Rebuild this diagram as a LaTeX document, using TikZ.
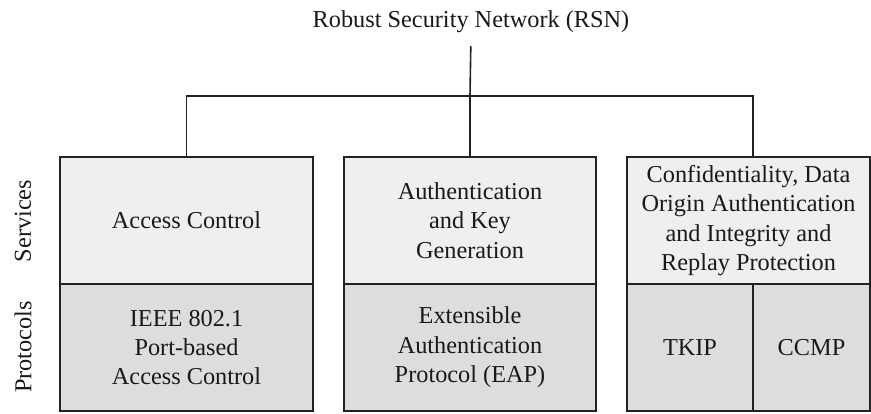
\documentclass[tikz,border=0pt]{standalone}
\usepackage{fontspec}
\setmainfont{Liberation Serif}
\usetikzlibrary{calc}
\definecolor{svcfill}{HTML}{EFEFEF}
\definecolor{protfill}{HTML}{DCDDDF}
\definecolor{linecol}{HTML}{222222}
\tikzset{
  x=1pt, y=1pt,
  every node/.style={font=\rmfamily\fontsize{24.3}{29.4}\selectfont, text=black!90},
  cell/.style={draw=linecol, line width=1.6pt, align=center, inner sep=0pt, minimum height=127pt},
  svc/.style={cell, fill=svcfill},
  prot/.style={cell, fill=protfill},
  conn/.style={draw=linecol, line width=1.6pt},
  sidelabel/.style={rotate=90, inner sep=0pt}
}
\begin{document}
\begin{tikzpicture}
\useasboundingbox (0,0) rectangle (871,-414);
% title
\node[inner sep=0pt] (title) at (471,-22) {Robust Security Network (RSN)};
% boxes
\node[svc, minimum width=253pt] (s1) at (186.5,-220.5) {Access Control};
\node[prot, minimum width=253pt] (p1) at (186.5,-347.5) {IEEE 802.1\\Port-based\\Access Control};
\node[svc, minimum width=252pt] (s2) at (470,-220.5) {Authentication\\and Key\\Generation};
\node[prot, minimum width=252pt] (p2) at (470,-347.5) {Extensible\\Authentication\\Protocol (EAP)};
\node[svc, minimum width=243pt] (s3) at (748.5,-220.5) {Confidentiality, Data\\Origin Authentication\\and Integrity and\\Replay Protection};
\node[prot, minimum width=126pt] (p3a) at (690,-347.5) {TKIP};
\node[prot, minimum width=117pt] (p3b) at (811.5,-347.5) {CCMP};
% side labels
\node[sidelabel] (lsvc) at (23,-221) {Services};
\node[sidelabel] (lprot) at (23,-347) {Protocols};
% connectors
\coordinate (hub) at (470,-96);
\coordinate (drop3) at (753,-96);
\draw[conn, shorten <=13pt] (title.south) -- (hub);
\draw[conn] (s1.north) |- (hub) -- (drop3) -- (drop3 |- s3.north);
\draw[conn] (hub) -- (s2.north);
\end{tikzpicture}
\end{document}
